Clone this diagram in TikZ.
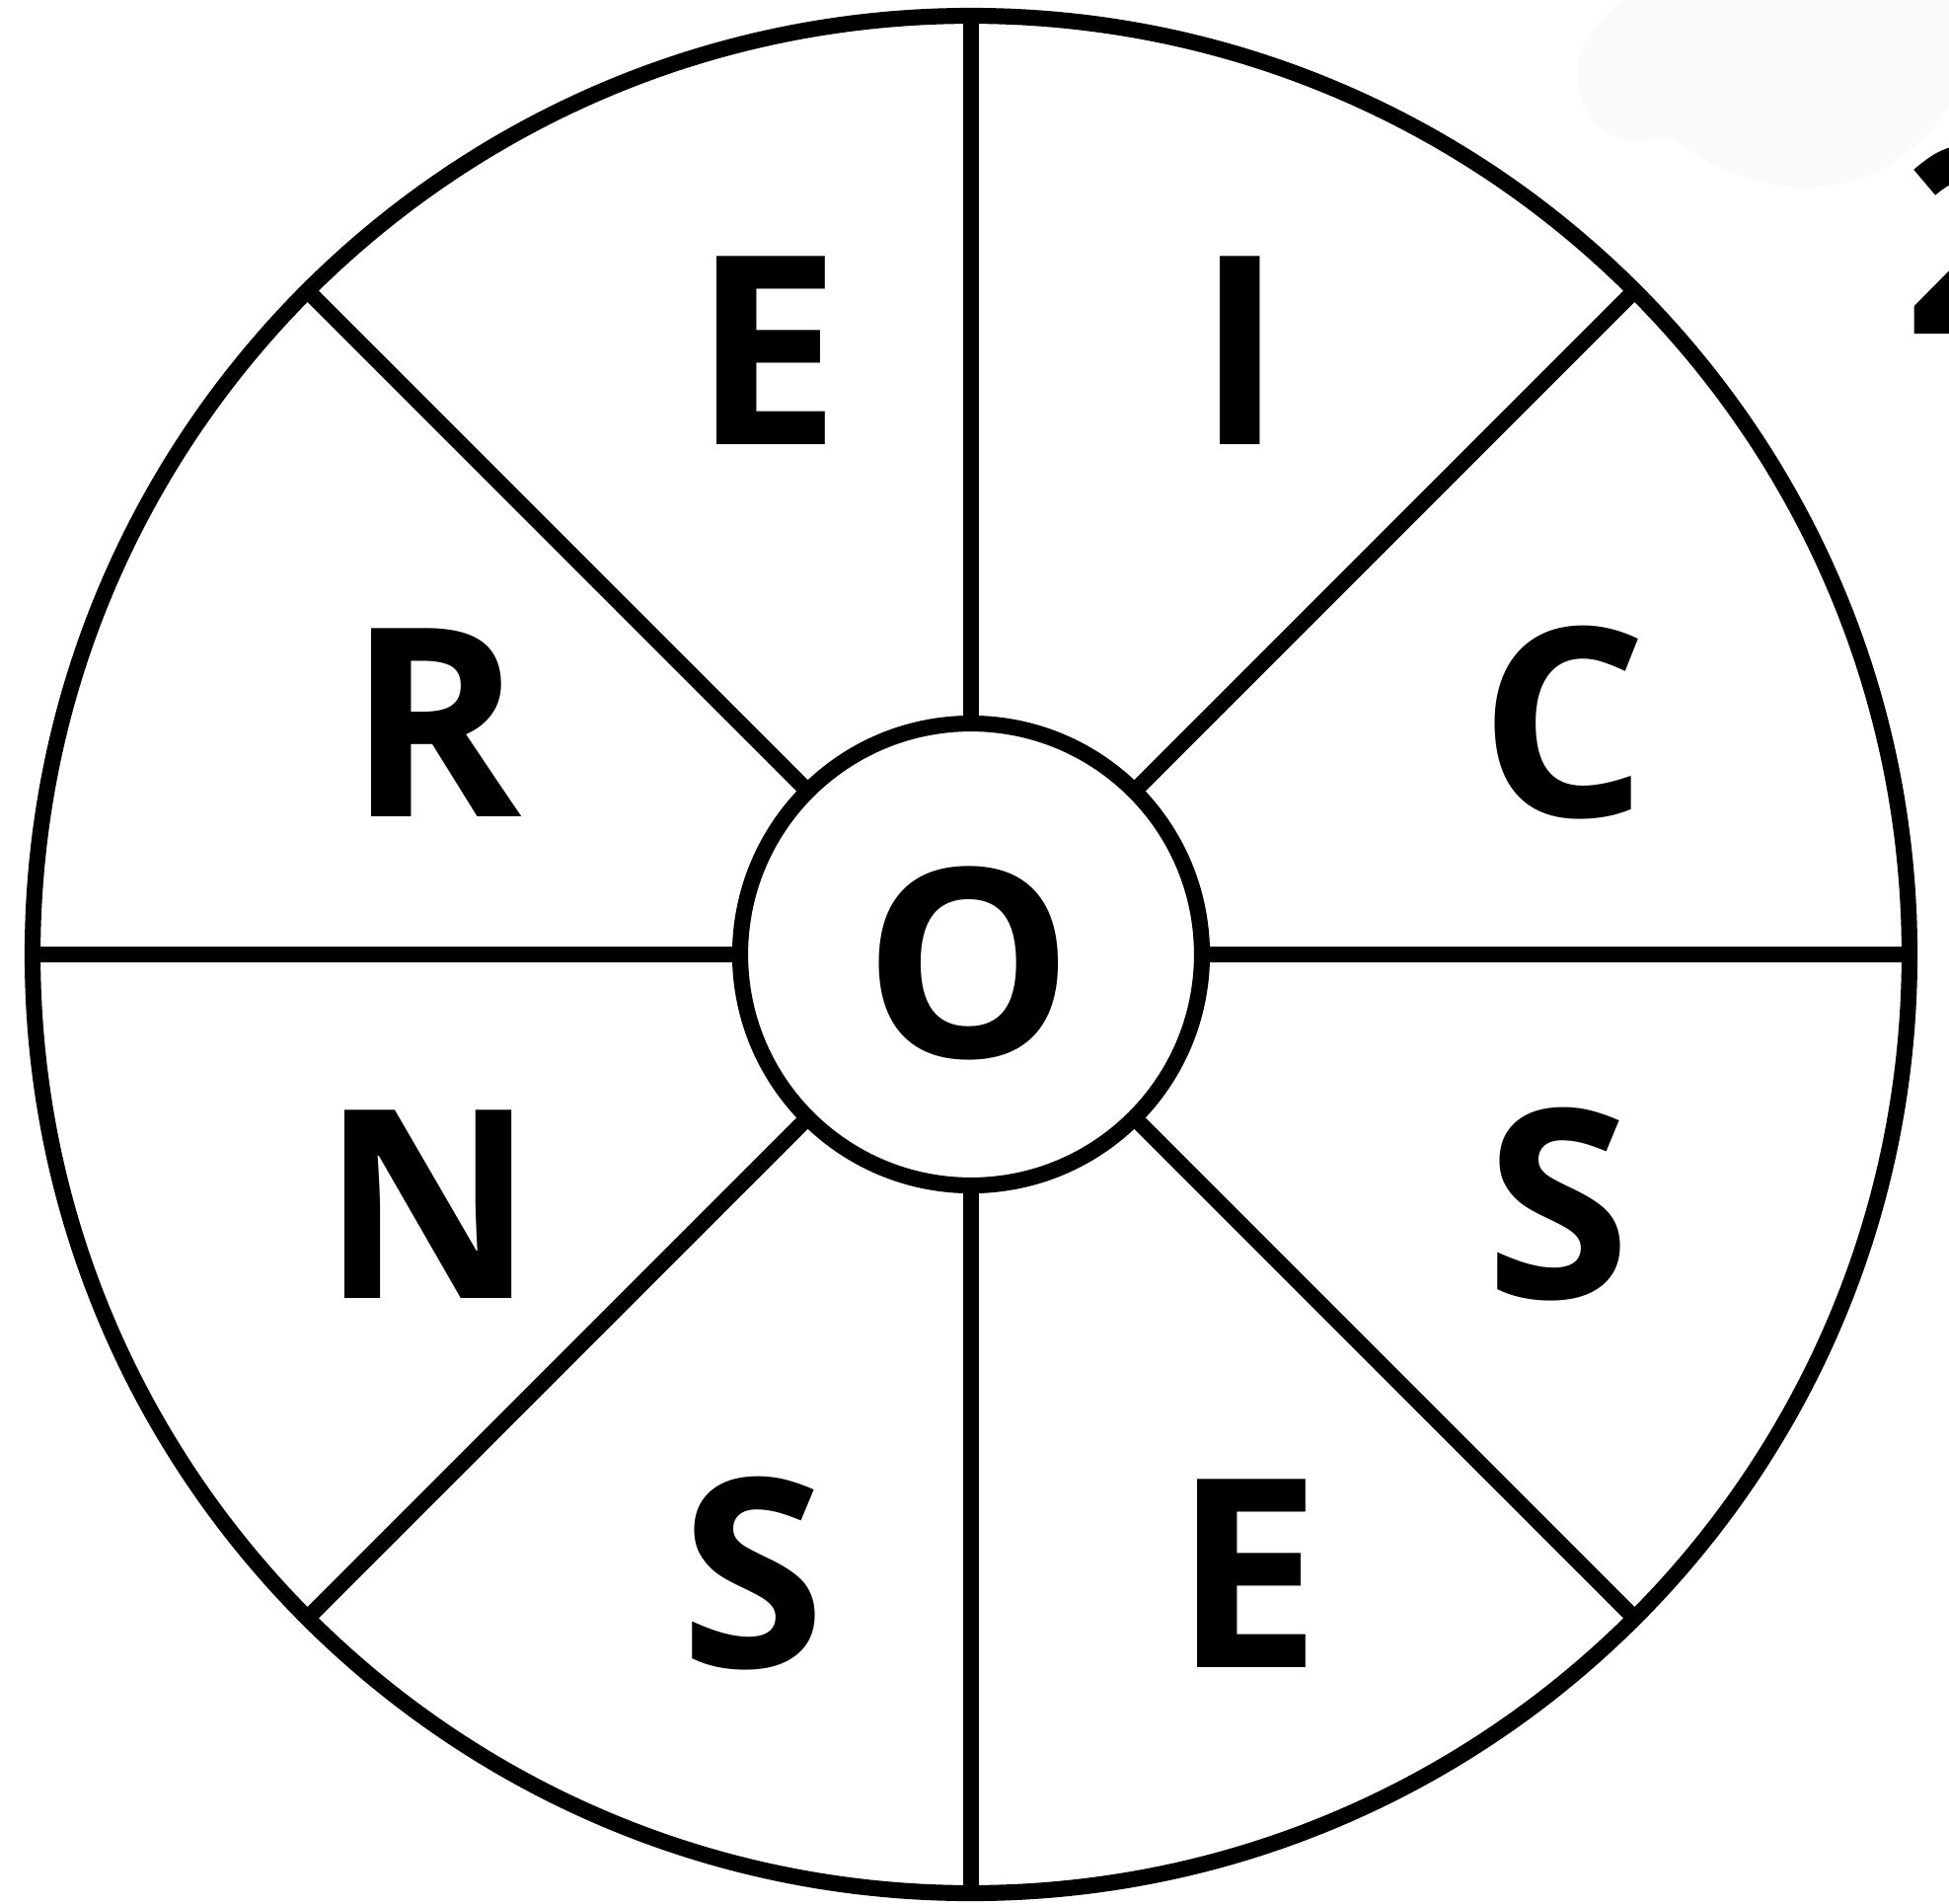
\documentclass[tikz,border=0pt]{standalone}
\usepackage{fontspec}
\setmainfont{Open Sans}
\usetikzlibrary{positioning}
\definecolor{ink}{HTML}{000000}
\definecolor{haze}{HTML}{FAFAFA}
\tikzset{
  rim/.style={circle, draw=ink, line width=4.6pt, inner sep=0pt, outer sep=0pt,
              minimum size=19.02cm},
  hub/.style={circle, draw=ink, fill=white, line width=4.6pt, inner sep=0pt,
              outer sep=0pt, minimum size=4.68cm},
  spoke/.style={draw=ink, line width=4.6pt},
  letter/.style={inner sep=0pt, text=ink, font=\fontsize{76}{80}\selectfont\bfseries}
}
\begin{document}
\begin{tikzpicture}[x=0.1mm, y=-0.1mm]
\useasboundingbox (0,0) rectangle (1975,1929);
\clip (0,0) rectangle (1975,1929);
% faint smudge in the corner
\fill[haze] (1645,-5) .. controls (1640,10) and (1598,30) .. (1598,77)
  .. controls (1598,120) and (1630,145) .. (1665,142)
  .. controls (1680,140) and (1690,138) .. (1697,142)
  .. controls (1740,175) and (1790,190) .. (1830,190)
  .. controls (1900,190) and (1950,150) .. (1980,100) -- (1980,-5) -- cycle;

\node[rim] (wheel) at (984,967) {};
\node[hub] (hub) at (984,967) {};
\foreach \a in {0,45,...,315}
  \draw[spoke] (hub.\a) -- (wheel.\a);

\foreach \name/\ch/\x/\y in {eTop/E/777/355, iTop/I/1257/355,
    rLeft/R/441/732, cRight/C/1585/732, oHub/O/982/976,
    nLeft/N/434/1220, sRight/S/1579/1220,
    sBottom/S/763/1594, eBottom/E/1264/1594}
  \node[letter] (\name) at (\x,\y) {\ch};

\node[letter, anchor=west] (num) at (1929,242) {2};
\end{tikzpicture}
\end{document}
